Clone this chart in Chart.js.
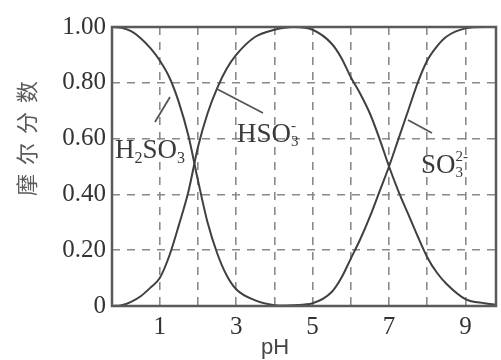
<!DOCTYPE html>
<html>
<head>
<meta charset="utf-8">
<script src="https://cdn.jsdelivr.net/npm/chart.js@4.4.1/dist/chart.umd.min.js"></script>
<style>
  body { margin: 0; background: #fff; }
  canvas { display: block; }
</style>
</head>
<body>
<canvas id="chart" width="501" height="360"></canvas>
<script>
const pH = [-0.25, 0, 0.25, 0.5, 0.75, 1, 1.25, 1.5, 1.75, 2, 2.25, 2.5, 2.75, 3, 3.5, 4, 4.5, 5, 5.5, 5.75, 6, 6.25, 6.5, 6.75, 7, 7.25, 7.5, 7.75, 8, 8.25, 8.5, 9, 9.5, 9.8];

// mole fractions
const h2so3 = [1.00, 0.997, 0.985, 0.96, 0.925, 0.88, 0.82, 0.73, 0.61, 0.45, 0.30, 0.19, 0.11, 0.06, 0.02, 0.003,
  0, 0, 0, 0, 0, 0, 0, 0, 0, 0, 0, 0, 0, 0, 0, 0, 0, 0];
const hso3 = [0, 0.003, 0.015, 0.035, 0.065, 0.10, 0.18, 0.29, 0.41, 0.57, 0.69, 0.78, 0.85, 0.90, 0.965, 0.99,
  1.00, 0.99, 0.94, 0.89, 0.82, 0.76, 0.69, 0.60, 0.50, 0.41, 0.33, 0.25, 0.175, 0.12, 0.08, 0.025, 0.01, 0.005];
const so3 = [0, 0, 0, 0, 0, 0, 0, 0, 0, 0, 0, 0, 0, 0, 0, 0,
  0.003, 0.01, 0.05, 0.10, 0.17, 0.24, 0.32, 0.41, 0.50, 0.60, 0.70, 0.80, 0.88, 0.93, 0.965, 0.995, 1.00, 1.00];

const xTicks = [1, 2, 3, 4, 5, 6, 7, 8, 9];
const yTitle = "摩尔分数";

function toPoints(ys) {
  return pH.map((x, i) => ({ x: x, y: ys[i] }));
}

function series(ys) {
  return {
    data: toPoints(ys),
    borderColor: '#404040',
    borderWidth: 2,
    pointRadius: 0,
    fill: false,
    cubicInterpolationMode: 'monotone'
  };
}

// draws text made of normal / sub / sup parts
function chemText(ctx, x, y, parts, size) {
  parts.forEach(p => {
    if (p.t === 'n') {
      ctx.font = size + 'px "Liberation Serif", serif';
      ctx.fillText(p.s, x, y);
      x += ctx.measureText(p.s).width;
    } else if (p.t === 'sub') {
      ctx.font = Math.round(size * 0.6) + 'px "Liberation Serif", serif';
      ctx.fillText(p.s, x, y + size * 0.18);
      x += ctx.measureText(p.s).width;
    } else if (p.t === 'stack') {
      ctx.font = Math.round(size * 0.55) + 'px "Liberation Serif", serif';
      ctx.fillText(p.sub, x, y + size * 0.15);
      ctx.fillText(p.sup, x, y - size * 0.45);
      x += Math.max(ctx.measureText(p.sub).width, ctx.measureText(p.sup).width);
    }
  });
}

const decorations = {
  id: 'decorations',
  afterDraw(chart) {
    const ctx = chart.ctx;
    const a = chart.chartArea;
    ctx.save();

    // frame
    ctx.strokeStyle = '#5a5a5a';
    ctx.lineWidth = 2.5;
    ctx.strokeRect(a.left, a.top, a.right - a.left, a.bottom - a.top);

    // y title, one character at a time, rotated
    ctx.fillStyle = '#5a5a5a';
    ctx.font = '22px "Noto Sans CJK SC"';
    ctx.textAlign = 'center';
    ctx.textBaseline = 'middle';
    const centers = [185, 154, 123, 92];
    for (let i = 0; i < yTitle.length; i++) {
      ctx.save();
      ctx.translate(27, centers[i]);
      ctx.rotate(-Math.PI / 2);
      ctx.fillText(yTitle[i], 0, 0);
      ctx.restore();
    }

    // x title
    ctx.fillStyle = '#444';
    ctx.font = '22px "Liberation Sans", sans-serif';
    ctx.fillText('pH', 275, 348);

    // leader lines
    ctx.strokeStyle = '#555';
    ctx.lineWidth = 1.8;
    ctx.beginPath();
    ctx.moveTo(155, 122); ctx.lineTo(170, 97);
    ctx.moveTo(217, 89); ctx.lineTo(263, 113);
    ctx.moveTo(408, 120); ctx.lineTo(432, 133);
    ctx.stroke();

    // species labels
    ctx.fillStyle = '#3a3a3a';
    ctx.textAlign = 'left';
    ctx.textBaseline = 'alphabetic';
    chemText(ctx, 115, 158, [{t:'n', s:'H'}, {t:'sub', s:'2'}, {t:'n', s:'SO'}, {t:'sub', s:'3'}], 27);
    chemText(ctx, 237, 142, [{t:'n', s:'HSO'}, {t:'stack', sub:'3', sup:'-'}], 27);
    chemText(ctx, 421, 173, [{t:'n', s:'SO'}, {t:'stack', sub:'3', sup:'2-'}], 27);

    ctx.restore();
  }
};

const gridDash = '#8a8a8a';

new Chart(document.getElementById('chart'), {
  type: 'line',
  data: {
    datasets: [series(h2so3), series(hso3), series(so3)]
  },
  options: {
    responsive: false,
    animation: false,
    devicePixelRatio: 1,
    layout: { padding: { top: 27, right: 5, left: 0, bottom: 0 } },
    plugins: { legend: { display: false }, tooltip: { enabled: false } },
    scales: {
      x: {
        type: 'linear',
        min: -0.25,
        max: 9.8,
        afterBuildTicks: s => { s.ticks = xTicks.map(v => ({ value: v })); },
        afterFit: s => { s.height = 54; },
        border: { display: false, dash: [8, 7] },
        grid: { color: gridDash, lineWidth: 1.6, drawTicks: false },
        ticks: {
          padding: 6,
          color: '#333',
          font: { family: '"Liberation Serif", serif', size: 25 },
          callback: v => (v % 2 === 1 ? String(v) : '')
        }
      },
      y: {
        min: 0,
        max: 1,
        afterFit: s => { s.width = 112; },
        border: { display: false, dash: [8, 7] },
        grid: {
          lineWidth: 1.6,
          drawTicks: false,
          color: c => {
            const v = c.tick ? Math.round(c.tick.value * 10) : -1;
            return (v === 0 || v === 10) ? 'rgba(0,0,0,0)' : gridDash;
          }
        },
        ticks: {
          stepSize: 0.1,
          padding: 6,
          color: '#333',
          font: { family: '"Liberation Serif", serif', size: 25 },
          callback: v => {
            const k = Math.round(v * 10);
            if (k % 2 !== 0) return '';
            return k === 0 ? '0' : (k / 10).toFixed(2);
          }
        }
      }
    }
  },
  plugins: [decorations]
});
</script>
</body>
</html>
